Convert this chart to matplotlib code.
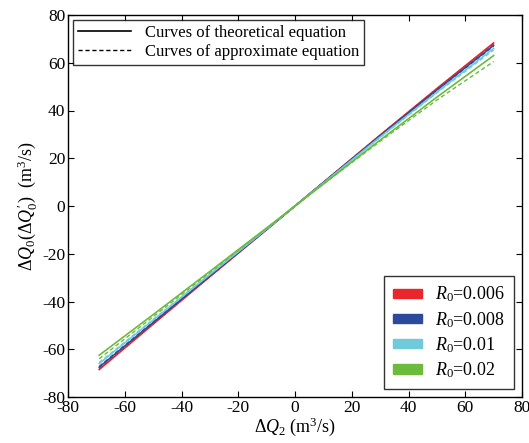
import matplotlib
matplotlib.use("Agg")
import matplotlib.pyplot as plt
from matplotlib.lines import Line2D
from matplotlib.patches import Patch

plt.rcParams['font.family'] = ['Liberation Serif', 'DejaVu Serif']
plt.rcParams['mathtext.fontset'] = 'custom'
plt.rcParams['mathtext.rm'] = 'Liberation Serif'
plt.rcParams['mathtext.it'] = 'Liberation Serif:italic'
plt.rcParams['axes.unicode_minus'] = False

x = [-69, -50, -30, -10, 0, 10, 30, 50, 70]
labels = ['0.006', '0.008', '0.01', '0.02']
colors = ['#e8262b', '#2c4a9c', '#6fcbd9', '#6cbb3c']
theory = {
    '0.006': [-68.5, -49.5, -29.6, -9.9, 0, 9.9, 29.7, 49.2, 68.3],
    '0.008': [-67.5, -48.8, -29.2, -9.8, 0, 9.8, 29.4, 48.6, 67.3],
    '0.01':  [-66.0, -47.8, -28.7, -9.6, 0, 9.6, 28.9, 47.7, 66.0],
    '0.02':  [-62.5, -45.5, -27.4, -9.2, 0, 9.2, 27.6, 45.6, 63.0],
}
approx = {
    '0.006': [-68.2, -49.3, -29.5, -9.9, 0, 9.9, 29.6, 49.1, 68.0],
    '0.008': [-67.2, -48.6, -29.1, -9.8, 0, 9.8, 29.3, 48.4, 67.0],
    '0.01':  [-65.5, -47.5, -28.6, -9.6, 0, 9.6, 28.7, 47.4, 65.3],
    '0.02':  [-64.0, -46.4, -27.9, -9.3, 0, 9.2, 27.1, 44.4, 60.5],
}

fig = plt.figure(figsize=(5.29, 4.43), dpi=100)
ax = fig.add_axes([68/529, 1-397/443, (522-68)/529, (397-15)/443])

for lab, c in zip(labels, colors):
    ax.plot(x, theory[lab], color=c, lw=1.2, ls='-')
    ax.plot(x, approx[lab], color=c, lw=1.0, ls=(0, (3, 2)))

ax.set_xlim(-80, 80)
ax.set_ylim(-80, 80)
ax.set_xticks(range(-80, 81, 20))
ax.set_yticks(range(-80, 81, 20))
ax.tick_params(direction='in', labelsize=12.5, top=True, right=True, length=4, pad=2)
for s in ax.spines.values():
    s.set_linewidth(1.0)

ax.set_xlabel(r'$\Delta \mathit{Q}_2$ (m$^3$/s)', fontsize=13, labelpad=0)
ax.set_ylabel(r"$\Delta \mathit{Q}_0(\Delta \mathit{Q}_0')$  (m$^3$/s)", fontsize=13, labelpad=2)

h1 = [Line2D([], [], color='black', lw=1.2, ls='-'),
      Line2D([], [], color='black', lw=1.0, ls=(0, (3, 2)))]
leg1 = ax.legend(h1, ['Curves of theoretical equation', 'Curves of approximate equation'],
                 loc='upper left', fontsize=12, frameon=True, fancybox=False,
                 edgecolor='black', borderpad=0.3, handlelength=3.2, labelspacing=0.2,
                 borderaxespad=0.3)
leg1.get_frame().set_linewidth(1.0)
ax.add_artist(leg1)

h2 = [Patch(facecolor=c, edgecolor=c) for c in colors]
leg2 = ax.legend(h2, [r'$\mathit{R}_0$=' + l for l in labels], loc='lower right',
                 fontsize=13, frameon=True, fancybox=False, edgecolor='black',
                 handlelength=1.6, handleheight=0.45, handletextpad=0.7,
                 labelspacing=0.3, borderpad=0.5, borderaxespad=0.45)
leg2.get_frame().set_linewidth(1.0)

fig.savefig('out.png', dpi=100)
